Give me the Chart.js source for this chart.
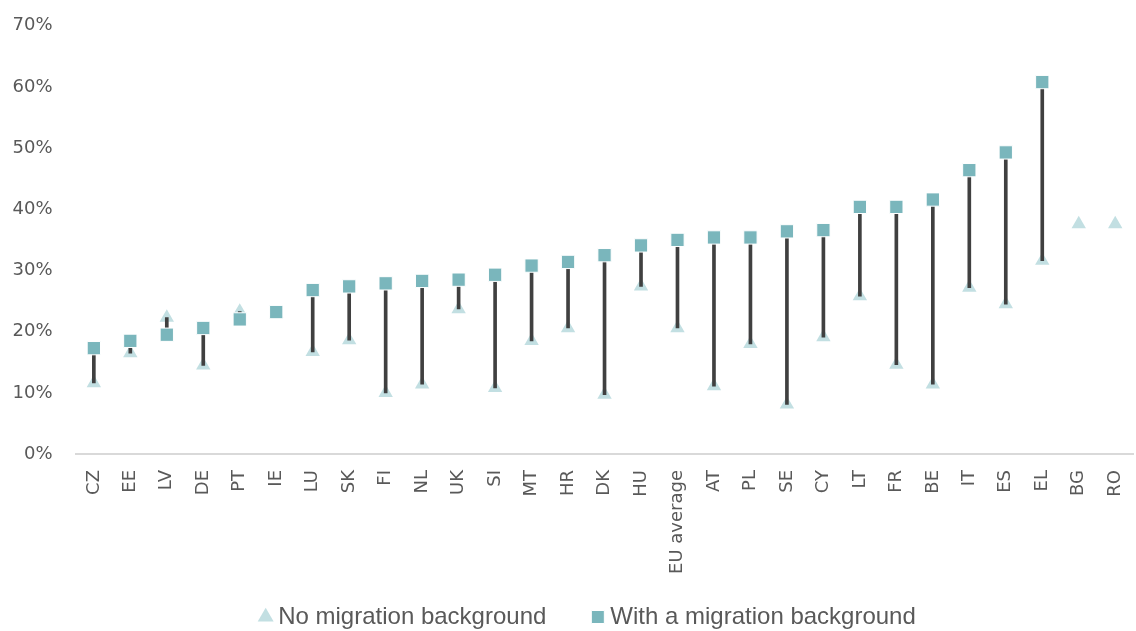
<!DOCTYPE html>
<html>
<head>
<meta charset="utf-8">
<script src="https://cdn.jsdelivr.net/npm/chart.js@4.4.0/dist/chart.umd.min.js"></script>
<style>
html, body { margin: 0; padding: 0; background: #fff; overflow: hidden; }
#wrap { width: 1145px; height: 631px; }
</style>
</head>
<body>
<div id="wrap"><canvas id="chart" width="1145" height="631"></canvas></div>
<script>
// share of people, by country (%)
var countries = ['CZ','EE','LV','DE','PT','IE','LU','SK','FI','NL','UK','SI','MT','HR','DK','HU',
                 'EU average','AT','PL','SE','CY','LT','FR','BE','IT','ES','EL','BG','RO'];
var noMigration = [11.6,16.5,22.3,14.5,23.3,23.0,16.7,18.6,10.0,11.4,23.7,10.8,18.5,20.6,9.7,27.4,
                   20.6,11.1,18.0,8.1,19.1,25.8,14.6,11.4,27.2,24.5,31.6,37.6,37.6];
var withMigration = [17.3,18.5,19.5,20.6,22.0,23.2,26.8,27.4,27.9,28.3,28.5,29.3,30.8,31.4,32.5,34.1,
                     35.0,35.4,35.4,36.4,36.6,40.4,40.4,41.6,46.4,49.3,60.8,null,null];
var yTicks = [0,10,20,30,40,50,60,70];

// vertical connector between the two markers
var gapRange = countries.map(function (c, i) {
  if (withMigration[i] == null || noMigration[i] == null) return null;
  return [noMigration[i], withMigration[i]];
});

var grey = '#595959';

// nudge the legend: a bit right of centre and closer to the axis labels
var legendShift = {
  id: 'legendShift',
  afterLayout: function (chart) {
    var lg = chart.legend;
    lg.left += 12; lg.right += 12;
    lg.top -= 21; lg.bottom -= 21;
  }
};

new Chart(document.getElementById('chart'), {
  data: {
    labels: countries,
    datasets: [{
      type: 'line',
      label: 'With a migration background',
      data: withMigration,
      showLine: false,
      pointStyle: 'rect',
      pointRadius: 9.4,
      pointHoverRadius: 9.4,
      backgroundColor: '#7AB6BC',
      borderColor: '#ffffff',
      borderWidth: 1,
      order: 0
    }, {
      type: 'bar',
      label: 'gap',
      data: gapRange,
      backgroundColor: '#404040',
      barThickness: 3,
      order: 1
    }, {
      type: 'line',
      label: 'No migration background',
      data: noMigration,
      showLine: false,
      pointStyle: 'triangle',
      pointRadius: 8.3,
      pointHoverRadius: 8.3,
      backgroundColor: '#C2DFE2',
      borderColor: '#C2DFE2',
      borderWidth: 0,
      order: 2
    }]
  },
  plugins: [legendShift],
  options: {
    responsive: false,
    animation: false,
    devicePixelRatio: 1,
    layout: { padding: { left: 12, top: 15, right: 0, bottom: -29 } },
    plugins: {
      tooltip: { enabled: false },
      legend: {
        position: 'bottom',
        labels: {
          usePointStyle: true,
          boxWidth: 1,
          boxHeight: 13,
          padding: 51,
          color: grey,
          font: { family: 'Liberation Sans Narrow, Liberation Sans, Arial', size: 24 },
          filter: function (item) { return item.text !== 'gap'; },
          sort: function (a, b) { return b.datasetIndex - a.datasetIndex; }
        }
      }
    },
    scales: {
      x: {
        offset: true,
        grid: { display: false },
        border: { display: true, color: '#D9D9D9', width: 2 },
        ticks: {
          color: grey,
          minRotation: 90,
          maxRotation: 90,
          autoSkip: false,
          padding: 8,
          font: { family: 'DejaVu Sans', size: 18 }
        },
        afterFit: function (scale) { scale.height = 121; }
      },
      y: {
        min: 0,
        max: 70,
        afterBuildTicks: function (scale) {
          scale.ticks = yTicks.map(function (v) { return { value: v }; });
        },
        grid: { display: false },
        border: { display: false },
        ticks: {
          color: grey,
          padding: 15,
          font: { family: 'DejaVu Sans', size: 18 },
          callback: function (v) { return v + '%'; }
        },
        afterFit: function (scale) { scale.width = 63.6; }
      }
    }
  }
});
</script>
</body>
</html>
